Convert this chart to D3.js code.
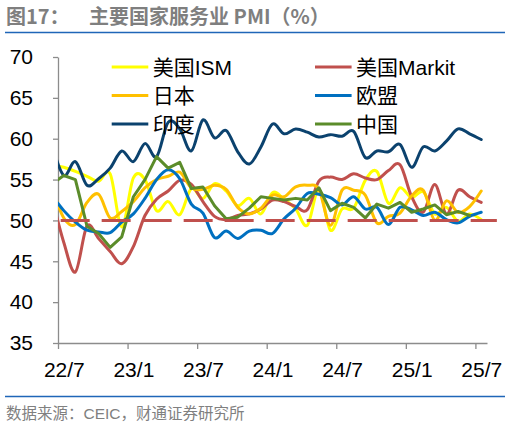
<!DOCTYPE html>
<html>
<head>
<meta charset="utf-8">
<script src="https://cdn.jsdelivr.net/npm/d3@7"></script>
<style>
  body { margin: 0; background: #fff; }
  svg { display: block; }
</style>
</head>
<body>
<svg id="chart" width="510" height="426"></svg>
<script>
// Monthly data, 22/6 is only there so the first segment gets clipped at the axis
const months = ['22/6','22/7','22/8','22/9','22/10','22/11','22/12',
    '23/1','23/2','23/3','23/4','23/5','23/6','23/7','23/8','23/9','23/10','23/11','23/12',
    '24/1','24/2','24/3','24/4','24/5','24/6','24/7','24/8','24/9','24/10','24/11','24/12',
    '25/1','25/2','25/3','25/4','25/5','25/6','25/7'];

const usIsm = [56.8, 56.5, 56.0, 55.4, 54.8, 55.7, 49.2,
    55.2, 55.0, 51.2, 52.3, 50.7, 53.9, 52.7, 54.5, 53.6, 51.8, 52.7, 50.8,
    53.4, 52.6, 51.4, 49.4, 53.8, 48.8, 51.4, 51.5, 54.9, 56.0, 52.1, 54.0,
    52.8, 53.5, 50.8, 51.6, 49.9, 50.8, 50.1];
const usMarkit = [52.7, 47.3, 43.7, 49.3, 47.8, 46.2, 44.7,
    46.8, 50.6, 52.6, 53.6, 54.9, 54.4, 52.3, 50.5, 50.1, 50.6, 50.8, 51.4,
    52.5, 52.3, 51.7, 51.3, 54.8, 55.3, 55.0, 55.7, 55.2, 55.0, 56.1, 56.8,
    52.9, 51.0, 54.4, 50.8, 53.7, 52.9, 52.2];
const japan = [54.0, 50.3, 49.5, 52.2, 53.2, 50.3, 51.1,
    52.3, 54.0, 55.0, 55.4, 55.9, 54.0, 53.8, 54.3, 53.8, 51.6, 50.8, 51.5,
    53.1, 52.9, 54.1, 54.3, 53.8, 49.4, 53.7, 53.7, 53.1, 49.7, 50.5, 50.9,
    53.0, 53.7, 50.0, 52.4, 51.0, 51.7, 53.6];
const euro = [53.0, 51.2, 49.8, 48.8, 48.6, 48.5, 49.8,
    50.8, 52.7, 55.0, 56.2, 55.1, 52.0, 50.9, 47.9, 48.7, 47.8, 48.7, 48.8,
    48.4, 50.2, 51.5, 53.3, 53.2, 52.8, 51.9, 52.9, 51.4, 51.6, 49.5, 51.6,
    51.3, 50.6, 51.0, 50.1, 49.7, 50.5, 51.0];
const india = [59.2, 55.5, 57.2, 54.3, 55.1, 56.4, 58.5,
    57.2, 59.4, 57.8, 62.0, 61.2, 58.5, 62.3, 60.1, 61.0, 58.4, 56.9, 59.0,
    61.8, 60.6, 61.2, 60.8, 60.2, 60.5, 60.3, 60.9, 57.7, 58.5, 58.4, 59.3,
    56.5, 59.0, 58.5, 59.7, 61.2, 60.6, 59.9];
// China stops at 25/6
const china = [54.5, 55.5, 55.0, 49.3, 48.4, 46.7, 48.0,
    52.9, 55.0, 57.8, 56.4, 57.1, 53.9, 54.1, 51.8, 50.2, 50.4, 51.5, 52.9,
    52.7, 52.5, 52.7, 52.5, 54.0, 51.2, 52.1, 51.6, 50.3, 52.0, 51.5, 52.2,
    51.0, 51.4, 51.9, 50.7, 51.1, 50.6];

const seriesNames = ['美国ISM', '美国Markit', '日本', '欧盟', '印度', '中国'];
const tickLabels = ['22/7', '23/1', '23/7', '24/1', '24/7', '25/1', '25/7'];
const yTicks = [35, 40, 45, 50, 55, 60, 65, 70];
const threshold = 50;

const colors = ['#FFFF00', '#C0504D', '#FFC000', '#0070C0', '#0B426E', '#5B8C2A'];
const svg = d3.select('#chart');
const margin = { top: 57, right: 23, bottom: 83, left: 58 };
const width = 510, height = 426;

// x works in months counted from the start of 22/7, each point sits mid-slot
const slotStart = m => months.indexOf(m) - 1;
const x = d3.scaleLinear().domain([0, 37]).range([margin.left, width - margin.right]);
const y = d3.scaleLinear().domain([35, 70]).range([height - margin.bottom, margin.top]);

// title + rules
svg.append('text').attr('x', 6).attr('y', 24)
    .attr('font-family', 'Noto Sans CJK SC').attr('font-weight', 'bold')
    .attr('font-size', 20).attr('fill', '#7F7F7F').text('图17：');
svg.append('text').attr('x', 89).attr('y', 24)
    .attr('font-family', 'Noto Sans CJK SC').attr('font-weight', 'bold')
    .attr('font-size', 20).attr('fill', '#7F7F7F').text('主要国家服务业 PMI（%）');
[32.5, 396.5].forEach(ly => {
    svg.append('line').attr('x1', 5).attr('x2', 505).attr('y1', ly).attr('y2', ly)
        .attr('stroke', '#1F66B8').attr('stroke-width', 1.3);
});
svg.append('text').attr('x', 6).attr('y', 418.5)
    .attr('font-family', 'Liberation Sans, Noto Sans CJK SC')
    .attr('font-size', 15.5).attr('fill', '#808080').text('数据来源：CEIC，财通证券研究所');

// axes
const axisColor = '#8C8C8C';
const xAxis = d3.axisBottom(x)
    .tickValues(tickLabels.map(slotStart))
    .tickFormat((d, i) => tickLabels[i])
    .tickSize(6).tickSizeOuter(0).tickPadding(13);
const gx = svg.append('g').attr('transform', `translate(0,${y(35)})`).call(xAxis);
gx.selectAll('text').attr('x', x(0.5) - x(0));

const yAxis = d3.axisLeft(y).tickValues(yTicks).tickSize(5).tickSizeOuter(0).tickPadding(20);
const gy = svg.append('g').attr('transform', `translate(${margin.left},0)`).call(yAxis);

[gx, gy].forEach(g => {
    g.select('.domain').attr('stroke', axisColor).attr('stroke-width', 1.3);
    g.selectAll('.tick line').attr('stroke', axisColor).attr('stroke-width', 1.3);
    g.selectAll('text').attr('font-family', 'Liberation Sans, Arial')
        .attr('font-size', 21).attr('fill', '#000');
});

// series
svg.append('clipPath').attr('id', 'plot-clip')
    .append('rect').attr('x', x(0)).attr('y', 0)
    .attr('width', x(37) - x(0)).attr('height', height);

const allSeries = [usIsm, usMarkit, japan, euro, india, china];
const smooth = d3.line()
    .x((d, i) => x(i - 0.5)).y(d => y(d))
    .curve(d3.curveCatmullRom.alpha(0));
const straight = d3.line()
    .x((d, i) => x(i - 0.5)).y(d => y(d));

const plot = svg.append('g').attr('clip-path', 'url(#plot-clip)');
allSeries.forEach((vals, k) => {
    plot.append('path')
        .attr('d', k === 5 ? straight(vals) : smooth(vals))
        .attr('fill', 'none').attr('stroke', colors[k]).attr('stroke-width', 3)
        .attr('stroke-linejoin', 'round').attr('stroke-linecap', 'round');
});

// 50 line, runs a little past the axis end like the original
svg.append('line')
    .attr('x1', x(0.23)).attr('x2', x(37.85))
    .attr('y1', y(threshold)).attr('y2', y(threshold))
    .attr('stroke', '#C0504D').attr('stroke-width', 3)
    .attr('stroke-dasharray', '29,12');

// legend, 3 rows x 2 columns
const legendCols = [111.7, 315];
const legendRows = [67, 95.5, 124];
seriesNames.forEach((name, k) => {
    const lx = legendCols[k % 2], ly = legendRows[Math.floor(k / 2)];
    svg.append('line').attr('x1', lx).attr('x2', lx + 36.6).attr('y1', ly).attr('y2', ly)
        .attr('stroke', colors[k]).attr('stroke-width', 3);
    svg.append('text').attr('x', lx + 41).attr('y', ly + 7.5)
        .attr('font-family', 'Liberation Sans, Noto Sans CJK SC')
        .attr('font-size', 21).attr('fill', '#000').text(name);
});
</script>
</body>
</html>
